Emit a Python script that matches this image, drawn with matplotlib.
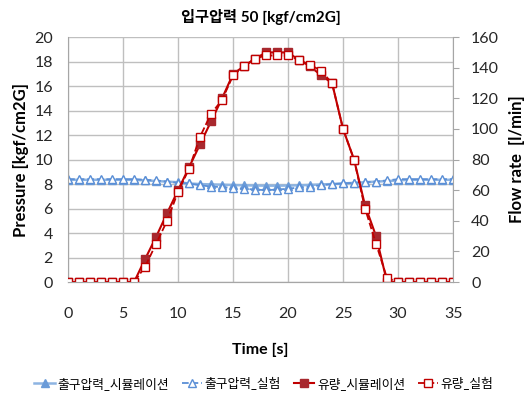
import numpy as np
import matplotlib
matplotlib.use('Agg')
from matplotlib import pyplot as plt

plt.rcParams['font.family'] = ['Lato', 'Noto Sans CJK KR', 'DejaVu Sans']

time = np.arange(0, 36)

# outlet pressure [kgf/cm2G]
p_sim = [8.35, 8.35, 8.35, 8.35, 8.35, 8.35, 8.35, 8.3, 8.25, 8.2,
         8.15, 8.05, 8.0, 7.97, 7.95, 7.92, 7.9, 7.88, 7.87, 7.87,
         7.88, 7.9, 7.93, 7.97, 8.0, 8.05, 8.1, 8.15, 8.2, 8.25,
         8.3, 8.35, 8.35, 8.35, 8.35, 8.35]
p_exp = [8.4, 8.4, 8.4, 8.4, 8.4, 8.4, 8.4, 8.35, 8.3, 8.2,
         8.1, 8.05, 7.9, 7.8, 7.75, 7.7, 7.62, 7.55, 7.5, 7.55,
         7.62, 7.72, 7.8, 7.9, 8.0, 8.05, 8.1, 8.15, 8.2, 8.3,
         8.4, 8.4, 8.4, 8.4, 8.4, 8.4]

# flow rate [l/min]
q_sim = [0, 0, 0, 0, 0, 0, 0, 15, 29.5, 45,
         60, 75, 90, 105, 120, 136, 141, 146, 150, 150,
         150, 145, 141, 135, 130, 100, 80, 50, 30, 0,
         0, 0, 0, 0, 0, 0]
q_exp = [0, 0, 0, 0, 0, 0, 0, 10, 25, 40,
         59, 74, 95, 110, 119, 135, 141, 146, 148, 148,
         148, 145, 142, 138, 130, 100, 80, 48, 25, 2.5,
         0, 0, 0, 0, 0, 0]

fig = plt.figure(figsize=(5.28, 3.95), dpi=100)
ax = fig.add_axes([0.129, 0.286, 0.729, 0.62])
ax2 = ax.twinx()

l1, = ax.plot(time, p_sim, '-', color='#8DB4E2', lw=1.8, marker='^', ms=5.5,
              mfc='#6A9BD8', mec='#6A9BD8', label='출구압력_시뮬레이션')
l2, = ax.plot(time, p_exp, '--', color='#5B8FD6', lw=1.3, marker='^', ms=5.5,
              mfc='white', mec='#5B8FD6', mew=1.0, label='출구압력_실험')
l3, = ax2.plot(time, q_sim, '-', color='#C00000', lw=1.5, marker='s', ms=5.5,
               mfc='#A8282E', mec='#A8282E', label='유량_시뮬레이션')
l4, = ax2.plot(time, q_exp, '--', color='#C00000', lw=1.3, marker='s', ms=5.5,
               mfc='white', mec='#C00000', mew=1.0, label='유량_실험')

ax.set_xlim(0, 35)
ax.set_ylim(0, 20)
ax2.set_ylim(0, 160)
ax.set_xticks(range(0, 36, 5))
ax.set_yticks(range(0, 21, 2))
ax2.set_yticks(range(0, 161, 20))

ax.grid(True, color='#BFBFBF', lw=1.0)
ax.set_axisbelow(True)
for a in (ax, ax2):
    for s in a.spines.values():
        s.set_color('#A6A6A6')
    a.spines['top'].set_visible(False)
ax2.spines['left'].set_visible(False)
ax.spines['right'].set_visible(False)

ax.tick_params(axis='x', length=0, pad=18, labelsize=11.5, colors='#262626')
ax.tick_params(axis='y', length=0, pad=11, labelsize=11.5, colors='#262626')
ax2.tick_params(axis='y', length=4, pad=9, labelsize=11.5, colors='#262626',
                direction='out')
ax2.tick_params(axis='y', color='#A6A6A6')

ax.set_xlabel('Time [s]', fontsize=11.5, fontweight='bold', labelpad=16)
ax.set_ylabel('Pressure [kgf/cm2G]', fontsize=12, fontweight='bold', labelpad=4)
ax2.set_ylabel('Flow rate  [l/min]', fontsize=12, fontweight='bold', labelpad=7)
ax.set_title('입구압력 50 [kgf/cm2G]', fontsize=11, fontweight='bold', pad=11)

fig.legend(handles=[l1, l2, l3, l4], loc='center', bbox_to_anchor=(0.5, 0.03),
           ncol=4, frameon=False, fontsize=9.2, handlelength=1.6,
           columnspacing=1.0, handletextpad=0.2)

fig.savefig('out.png', dpi=100)
